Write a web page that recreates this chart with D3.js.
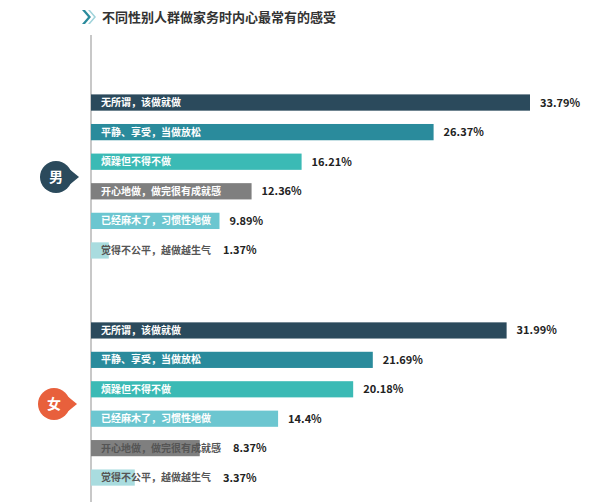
<!DOCTYPE html><html><head><meta charset="utf-8"><script src="https://cdn.jsdelivr.net/npm/d3@7"></script>
<style>body{margin:0;background:#fff}text{font-family:"Noto Sans CJK SC",sans-serif}</style></head><body><svg id="c" width="600" height="502"></svg>
<script>
const categories=["无所谓，该做就做","平静、享受，当做放松","烦躁但不得不做","开心地做，做完很有成就感","已经麻木了，习惯性地做","觉得不公平，越做越生气"];
const colors=["#2b4a5c","#2a8b9c","#3bbab5","#7f7f7f","#6cc6d0","#a9dcdf"];
const maleOrder=[0,1,2,3,4,5];
const maleValues=[33.79,26.37,16.21,12.36,9.89,1.37];
const femaleOrder=[0,1,2,4,3,5];
const femaleValues=[31.99,21.69,20.18,14.4,8.37,3.37];
const femaleLabels=["31.99%","21.69%","20.18%","14.4%","8.37%","3.37%"];
const maleLabels=maleValues.map(v=>v+"%");
const svg=d3.select("#c");
const x=d3.scaleLinear().domain([0,33.79]).range([91,530]);
const yM=d3.scaleBand().domain(d3.range(6)).range([87,266]).paddingInner(0.45).paddingOuter(0.25);
const yF=d3.scaleBand().domain(d3.range(6)).range([315,493]).paddingInner(0.45).paddingOuter(0.25);
svg.append("line").attr("x1",91).attr("x2",91).attr("y1",35).attr("y2",502).attr("stroke","#c8c8c8").attr("stroke-width",2);
svg.append("path").attr("d","M82,10 L88,17 L82,24 L85,24 L91,17 L85,10Z").attr("fill","#2a8b9c");
svg.append("path").attr("d","M88,10 L94,17 L88,24 L90,24 L96,17 L90,10Z").attr("fill","#9fd3da");
svg.append("text").attr("x",102).attr("y",22).attr("font-size",13).attr("font-weight",700).attr("fill","#333").text("不同性别人群做家务时内心最常有的感受");
function group(order,vals,labs,y){
  order.forEach((ci,i)=>{
    const v=vals[i],yy=y(i),h=y.bandwidth();
    svg.append("rect").attr("x",x(0)).attr("y",yy).attr("width",x(v)-x(0)).attr("height",h).attr("fill",colors[ci]);
    const t=svg.append("text").attr("x",101).attr("y",yy+h/2+3.5).attr("font-size",10).attr("font-weight",700).text(categories[ci]);
    const tw=t.node().getComputedTextLength();
    const inside=x(v)>=101+tw+4;
    t.attr("fill",inside?"#fff":"#555");
    const lx=inside?x(v)+10:Math.max(x(v),101+tw)+12;
    svg.append("text").attr("x",lx).attr("y",yy+h/2+4).attr("font-size",11).attr("font-weight",700).attr("fill","#222").text(labs[i]);
  });
}
group(maleOrder,maleValues,maleLabels,yM);
group(femaleOrder,femaleValues,femaleLabels,yF);
function badge(cx,cy,col,t){
  svg.append("path").attr("d",`M${cx+12},${cy-9} L${cx+23},${cy} L${cx+12},${cy+9}Z`).attr("fill",col);
  svg.append("circle").attr("cx",cx).attr("cy",cy).attr("r",16).attr("fill",col);
  svg.append("text").attr("x",cx).attr("y",cy+5).attr("text-anchor","middle").attr("font-size",14).attr("font-weight",700).attr("fill","#fff").text(t);
}
badge(56,177,"#2b4a5c","男");
badge(54,404,"#e8603c","女");
</script></body></html>
